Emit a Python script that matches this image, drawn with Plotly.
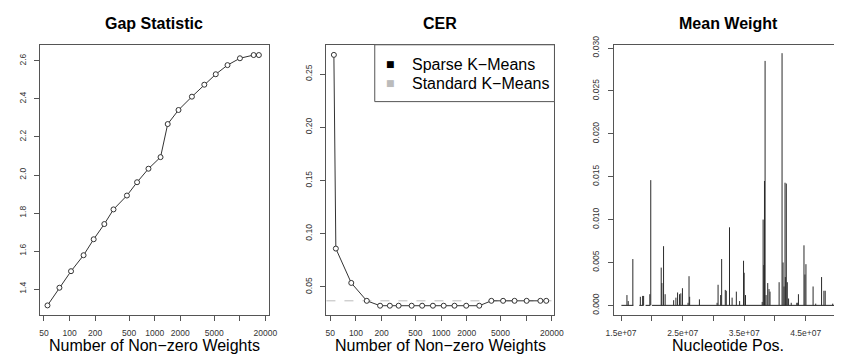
import plotly.graph_objects as go

# ---------------- data ----------------
gap_x = [55, 76, 104, 146, 192, 256, 328, 472, 621, 845, 1172, 1423, 1905, 2737,
         3829, 5219, 7172, 10040, 14550, 16760]
gap_y = [1.314, 1.407, 1.494, 1.578, 1.662, 1.742, 1.819, 1.892, 1.962, 2.033,
         2.094, 2.268, 2.342, 2.412, 2.475, 2.530, 2.578, 2.614, 2.631, 2.631]

cer_x = [55, 58, 88, 134, 192, 250, 317, 451, 599, 802, 1073, 1437, 1973, 2810,
         3896, 5354, 7298, 10120, 14670, 17200]
cer_y = [0.268, 0.086, 0.0537, 0.0369, 0.0323, 0.0323, 0.0323, 0.0323, 0.0323,
         0.0323, 0.0323, 0.0323, 0.0323, 0.0323, 0.0369, 0.0369, 0.0369, 0.0369,
         0.0369, 0.0369]
standard_cer = 0.0369

snp_pos = [1.595e7, 1.616e7, 1.691e7, 1.813e7, 1.850e7, 1.866e7, 1.967e7, 1.982e7,
           2.152e7, 2.163e7, 2.190e7, 2.216e7, 2.354e7, 2.391e7, 2.418e7, 2.450e7,
           2.471e7, 2.497e7, 2.588e7, 2.604e7, 2.614e7, 2.773e7, 3.060e7, 3.076e7,
           3.118e7, 3.134e7, 3.193e7, 3.209e7, 3.262e7, 3.304e7, 3.373e7, 3.426e7,
           3.490e7, 3.500e7, 3.522e7, 3.793e7, 3.808e7, 3.819e7, 3.830e7, 3.840e7,
           3.856e7, 3.883e7, 3.904e7, 3.920e7, 4.068e7, 4.116e7, 4.132e7, 4.148e7,
           4.164e7, 4.169e7, 4.185e7, 4.201e7, 4.222e7, 4.265e7, 4.355e7, 4.371e7,
           4.382e7, 4.472e7, 4.488e7, 4.504e7, 4.620e7, 4.663e7, 4.758e7, 4.796e7,
           4.817e7, 4.939e7]
snp_w = [0.0012, 0.0005, 0.0054, 0.0010, 0.0011, 0.0011, 0.0013, 0.0146,
         0.0044, 0.0026, 0.0069, 0.0013, 0.0006, 0.0009, 0.0015, 0.0013,
         0.0014, 0.0020, 0.0003, 0.0034, 0.0010, 0.0007, 0.0003, 0.0024,
         0.0012, 0.0054, 0.0018, 0.0017, 0.0091, 0.0009, 0.0016, 0.0005,
         0.0052, 0.0038, 0.0012, 0.0004, 0.0100, 0.0047, 0.0145, 0.0285,
         0.0012, 0.0026, 0.0019, 0.0016, 0.0027, 0.0294, 0.0050, 0.0022,
         0.0143, 0.0033, 0.0142, 0.0027, 0.0008, 0.0003, 0.0003, 0.0003,
         0.0013, 0.0070, 0.0036, 0.0048, 0.0022, 0.0002, 0.0033, 0.0017,
         0.0017, 0.0002]
# stretches of genome with SNPs (zero-weight baseline)
seg_start = [1.505e7, 1.796e7, 1.898e7, 2.003e7]
seg_end = [1.700e7, 1.866e7, 1.971e7, 5.000e7]

gap_xticks = [50, 100, 200, 500, 1000, 2000, 5000, 10000, 20000]
gap_xticktext = ["50", "100", "200", "500", "1000", "2000", "5000", "", "20000"]
gap_yticks = [1.4, 1.6, 1.8, 2.0, 2.2, 2.4, 2.6]
gap_yticktext = ["1.4", "1.6", "1.8", "2.0", "2.2", "2.4", "2.6"]
cer_yticks = [0.05, 0.10, 0.15, 0.20, 0.25]
cer_yticktext = ["0.05", "0.10", "0.15", "0.20", "0.25"]
mw_yticks = [0.000, 0.005, 0.010, 0.015, 0.020, 0.025, 0.030]
mw_yticktext = ["0.000", "0.005", "0.010", "0.015", "0.020", "0.025", "0.030"]
mw_xticks = [1.5e7, 2.0e7, 2.5e7, 3.0e7, 3.5e7, 4.0e7, 4.5e7, 5.0e7]
mw_xticktext = ["1.5e+07", "", "2.5e+07", "", "3.5e+07", "", "4.5e+07", ""]

# ---------------- layout helpers ----------------
W, H = 843, 358
FONT = "Liberation Sans, Arial, Helvetica, sans-serif"
LINE = "#333333"
AX = "#555555"


def px(x):
    return x / W


def py(y):
    return 1 - y / H


ydom = [py(314.3), py(36.7)]
dom1 = [px(33), px(266)]
dom2 = [px(325), px(557.7)]
dom3 = [px(618.3), 1.0]

fig = go.Figure()

marker = dict(symbol="circle", size=5, color="white", line=dict(color=LINE, width=1))

fig.add_trace(go.Scatter(x=gap_x, y=gap_y, mode="lines+markers", xaxis="x", yaxis="y",
                         line=dict(color=LINE, width=1), marker=marker, showlegend=False))
fig.add_trace(go.Scatter(x=cer_x, y=cer_y, mode="lines+markers", xaxis="x2", yaxis="y2",
                         line=dict(color=LINE, width=1), marker=marker, showlegend=False))

# baseline segments
bx, by = [], []
for s, e in zip(seg_start, seg_end):
    bx += [s, e, None]
    by += [0, 0, None]
fig.add_trace(go.Scatter(x=bx, y=by, mode="lines", xaxis="x3", yaxis="y3",
                         line=dict(color="#222222", width=1), showlegend=False))
# spikes
sx, sy = [], []
for p, w in zip(snp_pos, snp_w):
    sx += [p, p, None]
    sy += [0, w, None]
fig.add_trace(go.Scatter(x=sx, y=sy, mode="lines", xaxis="x3", yaxis="y3",
                         line=dict(color="#2a2a2a", width=1), showlegend=False))

tickfont = dict(family=FONT, size=8.5, color="#333333")
common = dict(showgrid=False, zeroline=False, showline=True, linecolor=AX, linewidth=1,
              ticks="outside", ticklen=5, tickcolor=AX, tickwidth=1, tickfont=tickfont)

fig.update_layout(
    width=W, height=H, margin=dict(l=0, r=0, t=0, b=0),
    paper_bgcolor="white", plot_bgcolor="white", showlegend=False,
    xaxis=dict(domain=dom1, anchor="y", type="log", range=[1.6564, 4.339],
               tickvals=gap_xticks, ticktext=gap_xticktext, mirror=True,
               ticklabelstandoff=4, **common),
    yaxis=dict(domain=ydom, anchor="x", range=[1.2615, 2.685], tickvals=gap_yticks,
               ticktext=gap_yticktext, tickangle=-90, mirror=True,
               ticklabelstandoff=5, **common),
    xaxis2=dict(domain=dom2, anchor="y2", type="log", range=[1.653, 4.332],
                tickvals=gap_xticks, ticktext=gap_xticktext, mirror=True,
                ticklabelstandoff=4, **common),
    yaxis2=dict(domain=ydom, anchor="x2", range=[0.0232, 0.2775], tickvals=cer_yticks,
                ticktext=cer_yticktext, tickangle=-90, mirror=True,
                ticklabelstandoff=5, **common),
    xaxis3=dict(domain=dom3, anchor="y3", range=[1.382e7, 4.96e7],
                tickvals=mw_xticks, ticktext=mw_xticktext, mirror=True,
                ticklabelstandoff=4, **common),
    yaxis3=dict(domain=ydom, anchor="x3", range=[-0.00117, 0.03038], tickvals=mw_yticks,
                ticktext=mw_yticktext, tickangle=-90, mirror=False,
                ticklabelstandoff=5, **common),
)

# standard k-means reference line
fig.add_shape(type="line", xref="x2 domain", yref="y2", x0=0, x1=1,
              y0=standard_cer, y1=standard_cer,
              line=dict(color="#bbbbbb", width=1, dash="dash"), layer="below")

# legend box
fig.add_shape(type="rect", xref="paper", yref="paper", x0=px(374.3), x1=px(557.7),
              y0=py(95), y1=py(36.7), line=dict(color=AX, width=1),
              fillcolor="white", layer="above")

ann = []
titlefont = dict(family=FONT, size=16, color="black")
for cx, t in [(149.5, "<b>Gap Statistic</b>"), (441.3, "<b>CER</b>"), (735, "<b>Mean Weight</b>")]:
    ann.append(dict(x=px(cx), y=py(15), xref="paper", yref="paper", text=t,
                    showarrow=False, font=titlefont, xanchor="center", yanchor="middle"))
labfont = dict(family=FONT, size=16, color="black")
for cx, t in [(149.5, "Number of Non\u2212zero Weights"), (441.3, "Number of Non\u2212zero Weights"),
              (735, "Nucleotide Pos.")]:
    ann.append(dict(x=px(cx), y=py(345), xref="paper", yref="paper", text=t,
                    showarrow=False, font=labfont, xanchor="center", yanchor="middle"))
for yy, col, t in [(56.7, "black", "Sparse K\u2212Means"), (76, "#bbbbbb", "Standard K\u2212Means")]:
    ann.append(dict(x=px(390), y=py(yy), xref="paper", yref="paper", text="\u25a0",
                    showarrow=False, font=dict(family="DejaVu Sans", size=9, color=col),
                    xanchor="center", yanchor="middle"))
    ann.append(dict(x=px(410), y=py(yy), xref="paper", yref="paper", text=t,
                    showarrow=False, font=labfont, xanchor="left", yanchor="middle"))
fig.update_layout(annotations=ann)

fig.write_html("out.html")
